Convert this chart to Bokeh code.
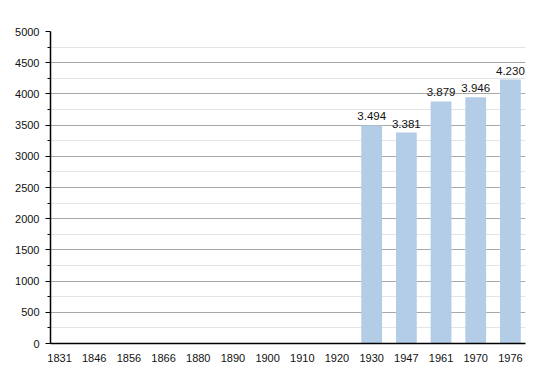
from bokeh.plotting import figure
from bokeh.models import ColumnDataSource, FixedTicker, CustomJSTickFormatter, Range1d
from bokeh.core.properties import value
from bokeh.embed import file_html
from bokeh.resources import INLINE

years = ["1831", "1846", "1856", "1866", "1880", "1890", "1900", "1910", "1920",
         "1930", "1947", "1961", "1970", "1976"]
bar_years = ["1930", "1947", "1961", "1970", "1976"]
populations = [3494, 3381, 3879, 3946, 4230]
pop_labels = ["3.494", "3.381", "3.879", "3.946", "4.230"]
y_ticks = [0, 500, 1000, 1500, 2000, 2500, 3000, 3500, 4000, 4500, 5000]

FONT = "Liberation Sans"

xs = [years.index(y) for y in bar_years]
src = ColumnDataSource(dict(x=xs, top=populations, label=pop_labels))

p = figure(width=550, height=373, output_backend="svg", toolbar_location=None,
           x_range=Range1d(-0.26, 13.435), y_range=Range1d(0, 5000),
           min_border_left=50, min_border_right=25, min_border_top=31, min_border_bottom=30)
p.outline_line_color = None
p.background_fill_color = "white"
p.border_fill_color = "white"

p.vbar(x="x", top="top", width=0.6, source=src, fill_color="#b3cde6", line_color=None)
p.text(x="x", y="top", text="label", source=src, text_align="center", text_baseline="alphabetic",
       y_offset=-9, text_font_size="11.5px", text_font=value(FONT), text_color="#111111")

# x axis
p.xaxis.ticker = FixedTicker(ticks=list(range(len(years))))
p.xaxis.formatter = CustomJSTickFormatter(args=dict(labels=years),
                                          code="return labels[Math.round(tick)];")
p.xaxis.major_tick_line_color = None
p.xaxis.minor_tick_line_color = None
p.xaxis.axis_line_color = "black"
p.xaxis.axis_line_width = 1.5
p.xaxis.major_label_text_font = FONT
p.xaxis.major_label_text_font_size = "11px"
p.xaxis.major_label_text_color = "#111111"
p.xaxis.major_label_standoff = 4

# y axis
p.yaxis.ticker = FixedTicker(ticks=y_ticks, minor_ticks=[v + 250 for v in y_ticks[:-1]])
p.yaxis.axis_line_color = "black"
p.yaxis.axis_line_width = 1.5
p.yaxis.major_tick_in = 0
p.yaxis.major_tick_out = 5
p.yaxis.minor_tick_in = 0
p.yaxis.minor_tick_out = 3
p.yaxis.major_tick_line_color = "black"
p.yaxis.minor_tick_line_color = "black"
p.yaxis.major_label_text_font = FONT
p.yaxis.major_label_text_font_size = "11px"
p.yaxis.major_label_text_color = "#111111"
p.yaxis.major_label_standoff = 6

p.xgrid.grid_line_color = None
p.ygrid.grid_line_color = "#a8a8a8"
p.ygrid.minor_grid_line_color = "#e4e4e4"
p.ygrid.level = "underlay"

open("out.html", "w").write(file_html(p, INLINE))
